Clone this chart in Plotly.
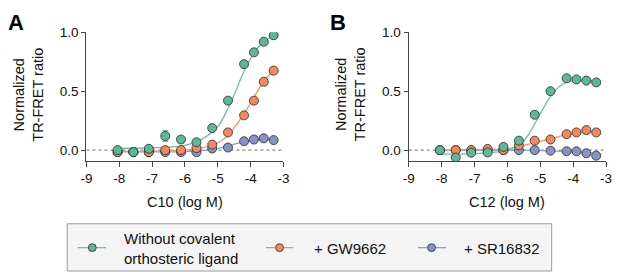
import plotly.graph_objects as go

W, H = 617, 272

# ---- data ----
log_conc = [-8.05, -7.57, -7.1, -6.6, -6.12, -5.65, -5.17, -4.69, -4.2, -3.9, -3.6, -3.3]

# Panel A (C10)
a_none = [0.0, -0.017, 0.011, 0.12, 0.09, 0.067, 0.187, 0.42, 0.73, 0.83, 0.92, 0.975]
a_none_err = [0, 0, 0, 0.045, 0, 0, 0, 0, 0.03, 0, 0.01, 0.03]
a_gw = [-0.017, -0.017, -0.017, 0.0, 0.0, 0.017, 0.047, 0.15, 0.295, 0.42, 0.58, 0.675]
a_gw_err = [0, 0, 0, 0, 0, 0, 0, 0, 0, 0, 0, 0.025]
a_sr = [-0.017, -0.017, -0.017, -0.017, -0.017, -0.017, 0.014, 0.022, 0.075, 0.09, 0.1, 0.085]

# Panel B (C12)
b_none = [0.0, -0.063, -0.022, -0.02, 0.027, 0.08, 0.30, 0.50, 0.61, 0.60, 0.59, 0.575]
b_gw = [0.0, 0.0, 0.0, 0.01, 0.0, 0.04, 0.08, 0.09, 0.135, 0.15, 0.17, 0.15]
b_sr = [0.0, 0.0, -0.005, -0.005, 0.0, 0.0, 0.0, -0.005, -0.01, -0.01, -0.027, -0.047]

# fitted curves
curve_x = [-8.05, -7.0, -6.5, -6.0, -5.5, -5.0, -4.75, -4.5, -4.25, -4.0, -3.75, -3.5, -3.3]
a_none_fit = [0.015, 0.02, 0.025, 0.04, 0.09, 0.2, 0.32, 0.47, 0.64, 0.78, 0.88, 0.94, 0.97]
a_gw_fit = [-0.01, -0.01, -0.006, 0.0, 0.018, 0.06, 0.11, 0.19, 0.29, 0.40, 0.52, 0.62, 0.68]
a_sr_fit = [-0.015, -0.015, -0.015, -0.013, -0.005, 0.015, 0.03, 0.05, 0.068, 0.08, 0.088, 0.092, 0.094]
b_none_fit = [-0.035, -0.03, -0.02, 0.0, 0.08, 0.31, 0.43, 0.52, 0.57, 0.59, 0.59, 0.59, 0.59]
b_gw_fit = [0.0, 0.002, 0.005, 0.01, 0.04, 0.075, 0.093, 0.11, 0.127, 0.14, 0.148, 0.155, 0.16]
b_sr_fit = [0.0, 0.0, 0.0, 0.0, -0.002, -0.005, -0.007, -0.009, -0.012, -0.015, -0.018, -0.022, -0.025]

x_ticks = [-9, -8, -7, -6, -5, -4, -3]
x_ticktext = ["-9", "-8", "-7", "-6", "-5", "-4", "-3"]
y_ticks = [0, 0.5, 1.0]
y_ticktext = ["0.0", "0.5", "1.0"]

series_names = ["Without covalent<br>orthosteric ligand", "+ GW9662", "+ SR16832"]
line_colors = ["#66c2a5", "#fc8d62", "#8da0cb"]
fill_colors = ["#5cb895", "#f5875c", "#8494c8"]
outline = "#3a3a3a"
FONT = "Liberation Sans, Arial, sans-serif"
TXT = "#111111"


def px(x):
    return x / W


def py(y):
    return 1 - y / H


fig = go.Figure()

panels = [
    ("x", "y", [a_none, a_gw, a_sr], [a_none_err, a_gw_err, None],
     [a_none_fit, a_gw_fit, a_sr_fit]),
    ("x2", "y2", [b_none, b_gw, b_sr], [None, None, None],
     [b_none_fit, b_gw_fit, b_sr_fit]),
]

for xa, ya, vals, errs, fits in panels:
    # zero dotted line
    fig.add_trace(go.Scatter(x=[-9, -3], y=[0, 0], mode="lines", xaxis=xa, yaxis=ya,
                             line=dict(color="#8a8a8a", width=1.2, dash="dot"),
                             showlegend=False, hoverinfo="skip"))
    for i in [2, 1, 0]:
        fig.add_trace(go.Scatter(x=curve_x, y=fits[i], mode="lines", xaxis=xa, yaxis=ya,
                                 line=dict(color=line_colors[i], width=1.3, shape="spline",
                                           smoothing=1.0),
                                 showlegend=False, hoverinfo="skip"))
    for i in [2, 1, 0]:
        err = errs[i]
        fig.add_trace(go.Scatter(
            x=log_conc, y=vals[i], mode="markers", xaxis=xa, yaxis=ya,
            marker=dict(size=9, color=fill_colors[i], line=dict(color=outline, width=0.9)),
            error_y=dict(type="data", array=err, visible=err is not None,
                         color=line_colors[i], thickness=1.3, width=3),
            showlegend=False))

axis_common = dict(showgrid=False, zeroline=False, showline=True, linecolor="#444444",
                   linewidth=1.3, ticks="outside", tickcolor="#444444", tickwidth=1.2,
                   tickfont=dict(family=FONT, size=13.5, color=TXT))

fig.update_layout(
    width=W, height=H, margin=dict(l=0, r=0, t=0, b=0),
    paper_bgcolor="white", plot_bgcolor="white", showlegend=False,
    xaxis=dict(domain=[px(82), px(283)], range=[-9, -3], tickvals=x_ticks,
               ticktext=x_ticktext, ticklen=5, anchor="y", **axis_common),
    yaxis=dict(domain=[py(158), py(26)], range=[-0.092, 1.0], tickvals=y_ticks,
               ticktext=y_ticktext, ticklen=4, anchor="x", **axis_common),
    xaxis2=dict(domain=[px(410.7), px(612)], range=[-9, -3], tickvals=x_ticks,
                ticktext=x_ticktext, ticklen=5, anchor="y2", **axis_common),
    yaxis2=dict(domain=[py(158), py(26)], range=[-0.092, 1.0], tickvals=y_ticks,
                ticktext=y_ticktext, ticklen=4, anchor="x2", **axis_common),
)

ann = []
# panel letters
ann.append(dict(text="<b>A</b>", x=px(0), y=py(1), xanchor="left", yanchor="top",
                font=dict(family=FONT, size=22, color="#000")))
ann.append(dict(text="<b>B</b>", x=px(328), y=py(1), xanchor="left", yanchor="top",
                font=dict(family=FONT, size=22, color="#000")))
# y titles
for xc in [23.5, 351.5]:
    ann.append(dict(text="Normalized<br>TR-FRET ratio", x=px(xc), y=py(90), textangle=-90,
                    xanchor="center", yanchor="middle",
                    font=dict(family=FONT, size=14.5, color=TXT)))
# x titles
for xc, t in [(182.5, "C10 (log M)"), (511, "C12 (log M)")]:
    ann.append(dict(text=t, x=px(xc), y=py(200), xanchor="center", yanchor="middle",
                    font=dict(family=FONT, size=14.5, color=TXT)))

# legend
shapes = [dict(type="rect", xref="paper", yref="paper", x0=px(62.5), x1=px(556.5),
               y0=py(271), y1=py(222.5), fillcolor="#f4f4f4",
               line=dict(color="#9a9a9a", width=1))]
leg_items = [(73, 102, 88, 118), (265, 293, 279, 312), (420, 449, 434, 465)]
for i, (l0, l1, mc, tx) in enumerate(leg_items):
    yc = 247
    shapes.append(dict(type="line", xref="paper", yref="paper", x0=px(l0), x1=px(l1),
                       y0=py(yc), y1=py(yc), line=dict(color=line_colors[i], width=1.3)))
    shapes.append(dict(type="circle", xref="paper", yref="paper", x0=px(mc - 4),
                       x1=px(mc + 4), y0=py(yc + 4), y1=py(yc - 4),
                       fillcolor=fill_colors[i], line=dict(color=outline, width=0.9)))
    ann.append(dict(text=series_names[i], x=px(tx), y=py(yc + 1), xanchor="left",
                    yanchor="middle", align="left",
                    font=dict(family=FONT, size=15, color=TXT)))

for a in ann:
    a.update(xref="paper", yref="paper", showarrow=False)
fig.update_layout(annotations=ann, shapes=shapes)

fig.write_html("out.html", config={"responsive": False, "displayModeBar": False},
               post_script="document.body.style.margin='0';document.body.style.overflow='hidden';")
